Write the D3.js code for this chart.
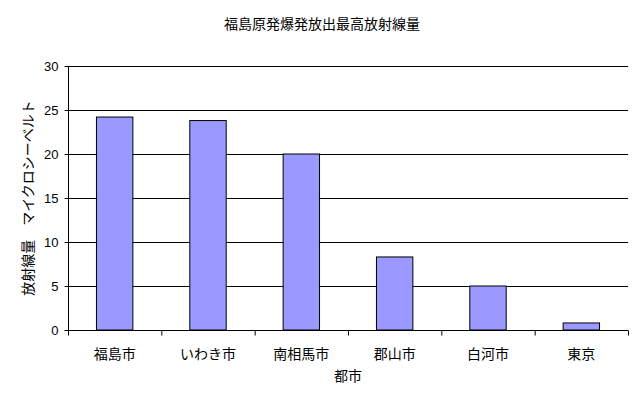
<!DOCTYPE html>
<html><head><meta charset="utf-8">
<script src="https://cdn.jsdelivr.net/npm/d3@7"></script>
<style>body{margin:0;background:#fff}text{font-family:"Noto Sans CJK JP",sans-serif;fill:#000}</style>
</head><body><svg id="c" width="644" height="402"></svg>
<script>
const categories=["福島市","いわき市","南相馬市","郡山市","白河市","東京"];
const values=[24.2,23.8,20.0,8.3,5.0,0.8];
const yTicks=[0,5,10,15,20,25,30];
const svg=d3.select("#c");
const L=68,R=628,T=66,B=330;
const x=d3.scaleBand().domain(categories).range([L,R]).paddingInner(0.61).paddingOuter(0.305);
const y=d3.scaleLinear().domain([0,30]).range([B,T]);
svg.append("g").selectAll("line").data(yTicks).join("line")
 .attr("x1",L).attr("x2",R).attr("y1",d=>y(d)+0.5).attr("y2",d=>y(d)+0.5).attr("stroke","#000");
svg.append("g").selectAll("rect").data(values).join("rect")
 .attr("x",(d,i)=>x(categories[i])).attr("width",x.bandwidth())
 .attr("y",d=>y(d)).attr("height",d=>B-y(d))
 .attr("fill","#9999ff").attr("stroke","#000").attr("stroke-width",1);
const ya=svg.append("g").attr("transform",`translate(${L+0.5},0)`)
 .call(d3.axisLeft(y).tickValues(yTicks).tickSize(4).tickPadding(6));
ya.selectAll("text").style("font-size","13px").style("font-family","Liberation Sans, sans-serif");
ya.select(".domain").attr("d",`M0,${T}V${B+0.5}`);
const step=x.step();
const xa=svg.append("g").attr("transform",`translate(0,${B+0.5})`);
xa.append("line").attr("x1",L).attr("x2",R).attr("stroke","#000");
xa.selectAll("line.t").data(d3.range(categories.length+1)).join("line").attr("class","t")
 .attr("x1",i=>L+i*step+0.5).attr("x2",i=>L+i*step+0.5).attr("y1",0).attr("y2",5).attr("stroke","#000");
xa.selectAll("text").data(categories).join("text")
 .attr("x",d=>x(d)+x.bandwidth()/2).attr("y",28).attr("text-anchor","middle").style("font-size","14px").text(d=>d);
svg.append("text").attr("x",348).attr("y",381).attr("text-anchor","middle").style("font-size","14px").text("都市");
svg.append("text").attr("x",322).attr("y",29).attr("text-anchor","middle").style("font-size","14px").text("福島原発爆発放出最高放射線量");
svg.append("text").attr("transform","translate(33,198) rotate(-90)").attr("text-anchor","middle").style("font-size","14px").text("放射線量　マイクロシーベルト");
</script></body></html>
